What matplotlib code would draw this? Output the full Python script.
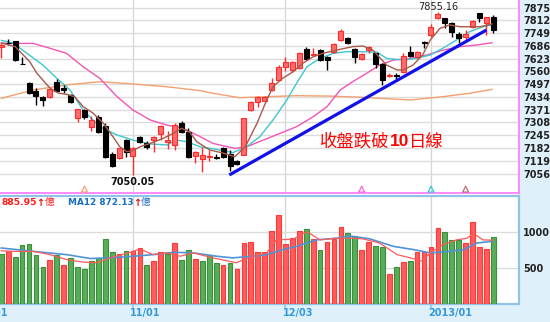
import numpy as np
import matplotlib
matplotlib.use("Agg")
import matplotlib.pyplot as plt
from matplotlib.patches import Rectangle

# ---------------- data ----------------
opens = [7680, 7701, 7710, 7596, 7502, 7463, 7435, 7435, 7509, 7478,
         7443, 7332, 7370, 7285, 7333, 7290, 7151, 7131, 7221, 7142,
         7236, 7205, 7221, 7251, 7214, 7197, 7307, 7262, 7142, 7126,
         7138, 7136, 7180, 7152, 7118, 7147, 7369, 7410, 7415, 7468,
         7517, 7583, 7567, 7575, 7669, 7641, 7665, 7630, 7654, 7715,
         7726, 7669, 7619, 7665, 7649, 7596, 7538, 7542, 7558, 7654,
         7629, 7706, 7739, 7822, 7822, 7800, 7743, 7728, 7780, 7846,
         7797, 7830]
highs = [7700, 7722, 7712, 7632, 7506, 7476, 7438, 7475, 7521, 7494,
         7447, 7375, 7374, 7340, 7347, 7305, 7164, 7184, 7225, 7185,
         7242, 7215, 7240, 7294, 7265, 7305, 7315, 7280, 7168, 7188,
         7170, 7150, 7185, 7170, 7122, 7332, 7412, 7440, 7438, 7527,
         7590, 7632, 7612, 7657, 7680, 7673, 7672, 7635, 7700, 7770,
         7730, 7675, 7650, 7684, 7652, 7600, 7550, 7552, 7652, 7687,
         7660, 7711, 7793, 7855.16, 7825, 7805, 7756, 7764, 7815, 7850,
         7828, 7838]
lows = [7628, 7688, 7612, 7594, 7448, 7394, 7389, 7430, 7462, 7455,
        7406, 7310, 7325, 7266, 7258, 7135, 7090, 7128, 7139, 7050.05,
        7209, 7178, 7164, 7221, 7175, 7172, 7255, 7135, 7106, 7065,
        7118, 7128, 7135, 7068, 7100, 7145, 7366, 7385, 7413, 7465,
        7512, 7563, 7555, 7570, 7615, 7638, 7612, 7565, 7650, 7710,
        7695, 7600, 7615, 7650, 7575, 7493, 7530, 7522, 7553, 7630,
        7625, 7674, 7731, 7818, 7772, 7731, 7698, 7714, 7775, 7805,
        7740, 7748]
closes = [7690, 7699, 7617, 7594, 7455, 7438, 7418, 7471, 7465, 7468,
          7410, 7373, 7336, 7318, 7261, 7137, 7093, 7182, 7164, 7180,
          7213, 7188, 7236, 7290, 7220, 7295, 7263, 7139, 7164, 7147,
          7142, 7132, 7140, 7091, 7105, 7328, 7410, 7432, 7435, 7504,
          7583, 7608, 7606, 7652, 7619, 7645, 7616, 7616, 7695, 7760,
          7698, 7632, 7645, 7680, 7596, 7517, 7542, 7535, 7636, 7636,
          7654, 7698, 7780, 7843, 7800, 7756, 7723, 7744, 7810, 7822,
          7827, 7764]

volumes = [696, 732, 655, 822, 836, 677, 509, 618, 682, 546,
           641, 519, 482, 591, 641, 904, 723, 696, 737, 741,
           777, 537, 596, 727, 696, 854, 609, 755, 628, 596,
           686, 564, 537, 573, 482, 854, 868, 727, 727, 1013,
           1241, 836, 914, 1018, 1041, 904, 745, 863, 904, 1072,
           982, 950, 755, 868, 809, 795, 423, 509, 582, 591,
           718, 718, 791, 1059, 1000, 891, 891, 854, 1132, 786,
           764, 927]
vol_up = "grgggggrgrgggggggrgrrgrrgrggrgggrgrrrrrrrrrrgrgrrrggrrggrgrgrrrrgggrrrrg"

# price moving averages (index, value)
ma5_x = [0, 2.0, 4.1, 5.1, 7.0, 8.2, 9.4, 10.6, 11.8, 13.2, 14.7, 16.1, 17.1, 18.1,
         19.0, 20.0, 21.5, 23.4, 24.8, 26.0, 27.2, 28.2, 30.1, 32.0, 33.7, 35.2,
         36.9, 38.3, 39.2, 40.6, 42.1, 43.5, 45.0, 46.4, 48.4, 50.7, 52.2, 53.6,
         55.6, 57.1, 58.0, 59.4, 60.8, 61.9, 63.3, 64.7, 66.2, 69.1, 70.8]
ma5_y = [7700, 7682, 7608, 7552, 7478, 7453, 7447, 7435, 7386, 7355, 7305, 7238, 7188, 7164,
         7169, 7188, 7205, 7230, 7254, 7279, 7260, 7213, 7172, 7157, 7139, 7188,
         7304, 7419, 7484, 7526, 7558, 7600, 7632, 7649, 7665, 7682, 7685, 7665,
         7591, 7567, 7567, 7591, 7641, 7715, 7772, 7789, 7780, 7780, 7794]
ma10_x = [0, 1.7, 3.7, 6.0, 8.0, 9.9, 11.8, 14.2, 16.7, 19.0, 21.5, 23.9, 25.3, 26.8,
          28.7, 31.6, 33.4, 35.4, 37.3, 39.2, 41.2, 42.6, 44.1, 46.0, 47.9, 49.8,
          51.8, 54.2, 55.6, 58.0, 59.9, 61.9, 63.7, 65.7, 67.6, 69.5, 70.8]
ma10_y = [7713, 7700, 7649, 7591, 7526, 7468, 7369, 7287, 7246, 7221, 7202, 7197, 7221, 7213,
          7188, 7172, 7159, 7188, 7238, 7320, 7419, 7501, 7583, 7624, 7649, 7657,
          7657, 7655, 7624, 7616, 7624, 7641, 7674, 7715, 7756, 7780, 7789]
ma20_x = [0, 1.3, 2.7, 4.6, 7.0, 9.4, 11.8, 14.2, 16.7, 19.0, 21.5, 23.9, 26.2, 28.7,
          30.5, 33.7, 35.4, 37.8, 40.2, 42.6, 45.0, 47.0, 48.9, 50.7, 52.7, 54.6,
          56.6, 59.0, 61.4, 63.8, 66.2, 68.6, 70.8]
ma20_y = [7700, 7698, 7698, 7698, 7674, 7649, 7583, 7526, 7435, 7369, 7320, 7295, 7279, 7238,
          7205, 7180, 7188, 7221, 7254, 7287, 7336, 7386, 7468, 7509, 7550, 7591,
          7616, 7624, 7641, 7665, 7682, 7690, 7701]
ma60_x = [0, 4.6, 9.4, 14.2, 19.0, 23.9, 28.7, 30.5, 34.4, 38.3, 42.6, 47.4, 52.2, 54.6,
          59.0, 63.7, 67.6, 70.8]
ma60_y = [7427, 7468, 7493, 7509, 7498, 7484, 7465, 7452, 7430, 7435, 7440, 7438, 7432, 7427,
          7419, 7435, 7452, 7471]

# volume moving averages (index, value)
vma5_x = [0, 1.3, 4.6, 7.0, 9.4, 11.8, 13.8, 15.7, 18.6, 20.0, 21.9, 23.9, 25.8, 27.7,
          30.5, 33.9, 36.3, 38.3, 39.7, 42.1, 44.1, 46.0, 48.4, 50.7, 52.2, 54.6,
          57.1, 59.0, 60.7, 61.9, 63.7, 65.7, 67.2, 68.1, 69.5, 70.9]
vma5_y = [740, 731, 731, 686, 618, 582, 573, 641, 718, 764, 686, 710, 663, 710,
          641, 573, 663, 710, 891, 900, 1004, 891, 914, 914, 904, 846,
          686, 641, 595, 710, 823, 891, 914, 982, 891, 886]
vma12_x = [0, 4.6, 9.4, 12.8, 15.7, 19.0, 21.9, 24.8, 27.7, 31.1, 33.4, 36.3, 38.3,
           40.6, 42.6, 45.5, 48.4, 50.3, 53.2, 56.6, 59.5, 61.9, 64.7, 66.7, 68.6, 70.9]
vma12_y = [778, 731, 686, 632, 641, 663, 686, 718, 710, 663, 641, 663, 686,
           755, 800, 891, 914, 945, 904, 800, 755, 710, 731, 755, 846, 872]

# MA cross markers
cross_idx = [12, 52, 62, 67]
cross_colors = ["#ff9a70", "#ff66cc", "#33c8d8", "#c07070"]

# trend line
trend_x = [32.9, 70.0]
trend_y = [7049, 7764]

price_ticks = [7056 + 63 * k for k in range(14)]
vol_ticks = [500, 1000]
date_idx = [-3, 19, 41, 62]
date_labels = ["10/01", "11/01", "12/03", "2013/01"]

low_label = "7050.05"
high_label = "7855.16"
note_parts = ["收盤跌破", "10", "日線"]
vol_ma5_text = "885.95"
vol_ma12_text = "MA12 872.13"

# ---------------- figure ----------------
W, H = 550, 322
fig = plt.figure(figsize=(W / 100, H / 100), dpi=100)
fig.patch.set_facecolor("#dff0fb")
fig.add_artist(Rectangle((0, 1 - 304 / H), 519 / W, 304 / H, transform=fig.transFigure,
                         facecolor="white", edgecolor="none", zorder=0))

ax = fig.add_axes([0, 1 - 193 / H, 519 / W, 193 / H])
axv = fig.add_axes([0, 1 - 304 / H, 519 / W, 108 / H])

n = len(opens)
xs = np.arange(n)
XL = (-0.19, 74.7)

# ---- price panel ----
ax.set_yticks(price_ticks)
ax.set_yticklabels([str(t) for t in price_ticks])
ax.yaxis.tick_right()
ax.tick_params(axis="y", length=0, pad=3, labelsize=7, labelcolor="#222222")
for lab in ax.get_yticklabels():
    lab.set_fontweight("bold")
ax.set_xticks(date_idx)
ax.tick_params(axis="x", length=0, labelbottom=False)
ax.set_xlim(*XL)
ax.set_ylim(6960, 7912)
ax.grid(True, axis="y", color="#dcdcdc", lw=1.0)
ax.grid(True, axis="x", color="#d4d4d4", lw=0.9)
ax.set_axisbelow(True)
for s in ["top", "left"]:
    ax.spines[s].set_visible(False)
for s in ["right", "bottom"]:
    ax.spines[s].set_color("#ff80ff")
    ax.spines[s].set_linewidth(1.3)

# moving averages
ax.plot(ma60_x, ma60_y, color="#f4a070", lw=1.0, zorder=2)
ax.plot(ma20_x, ma20_y, color="#f055b8", lw=1.0, zorder=2)
ax.plot(ma10_x, ma10_y, color="#3cc8d0", lw=1.0, zorder=2)

# candles
bw = 0.72
for i in range(n):
    o, h, l, c = opens[i], highs[i], lows[i], closes[i]
    up = c >= o
    fc = "#ff6b6b" if up else "#000000"
    ec = "#ff2a2a" if up else "#000000"
    ax.vlines(xs[i], l, h, color=ec, lw=1.0, zorder=3)
    bottom = min(o, c)
    height = max(abs(c - o), 1.5)
    ax.bar(xs[i], height, bottom=bottom, width=bw, color=fc, edgecolor=ec,
           linewidth=0.8, zorder=4)

ax.plot(ma5_x, ma5_y, color="#a65a4a", lw=1.0, zorder=5)

# trend line
ax.plot(trend_x, trend_y, color="#1010e8", lw=2.3, zorder=6, solid_capstyle="butt")

# cross markers
ax.scatter(cross_idx, [0.02] * len(cross_idx), marker="^", s=18, facecolors="none",
           edgecolors=cross_colors, linewidths=0.9,
           transform=ax.get_xaxis_transform(), zorder=6, clip_on=False)
ax.set_xlim(*XL)
ax.set_ylim(6960, 7912)

# labels
ax.annotate(low_label, xy=(19, min(lows)), xytext=(0, -2), textcoords="offset pixels",
            ha="center", va="top", fontsize=7, fontweight="bold", color="#111111")
ax.annotate(high_label, xy=(63, max(highs)), xytext=(0, 0), textcoords="offset pixels",
            ha="center", va="bottom", fontsize=7, color="#222222")

fig.text(320 / W, 1 - 141.5 / H, note_parts[0], fontsize=12.5, color="#ff0000",
         family=["Noto Sans CJK TC"], ha="left", va="center")
fig.text(390 / W, 1 - 141.5 / H, note_parts[1], fontsize=12.5, color="#ff0000",
         family=["Liberation Sans"], fontweight="bold", ha="left", va="center")
fig.text(409 / W, 1 - 141.5 / H, note_parts[2], fontsize=12.5, color="#ff0000",
         family=["Noto Sans CJK TC"], ha="left", va="center")

# ---- volume panel ----
vcols_f = ["#ff5c5c" if u == "r" else "#58ad58" for u in vol_up]
vcols_e = ["#ff3838" if u == "r" else "#3a8f3a" for u in vol_up]
axv.bar(xs, volumes, width=0.68, color=vcols_f, edgecolor=vcols_e, linewidth=0.8, zorder=3)
axv.plot(vma12_x, vma12_y, color="#4d94d6", lw=1.2, zorder=4)
axv.plot(vma5_x, vma5_y, color="#ff5a5a", lw=0.9, zorder=5)
axv.set_yticks(vol_ticks)
axv.set_yticklabels([str(t) for t in vol_ticks])
axv.yaxis.tick_right()
axv.tick_params(axis="y", length=0, pad=3, labelsize=7, labelcolor="#222222")
for lab in axv.get_yticklabels():
    lab.set_fontweight("bold")
axv.set_xticks(date_idx)
axv.tick_params(axis="x", length=3, width=1.2, color="#8fc3e8", labelbottom=False)
axv.set_xlim(*XL)
axv.set_ylim(0, 1500)
axv.grid(True, axis="y", color="#dcdcdc", lw=1.0)
axv.grid(True, axis="x", color="#d4d4d4", lw=0.9)
axv.set_axisbelow(True)
axv.spines["left"].set_visible(False)
for s in ["top", "right", "bottom"]:
    axv.spines[s].set_color("#8fc3e8")
    axv.spines[s].set_linewidth(1.6)

# volume legend
ly = 1 - 202.7 / H
fig.text(1 / W, ly, vol_ma5_text, fontsize=6.6, fontweight="bold", color="#ff1a1a", ha="left", va="center")
fig.text(36.5 / W, ly, "↑", fontsize=7, fontweight="bold", color="#e01010", ha="left", va="center")
fig.text(44.5 / W, ly, "億", fontsize=7, color="#ff1a1a", family=["Noto Sans CJK TC"], ha="left", va="center")
fig.text(67.7 / W, ly, vol_ma12_text, fontsize=6.4, fontweight="bold", color="#1a6fc0", ha="left", va="center")
fig.text(133.5 / W, ly, "↑", fontsize=7, fontweight="bold", color="#e01010", ha="left", va="center")
fig.text(140.5 / W, ly, "億", fontsize=7, color="#1a6fc0", family=["Noto Sans CJK TC"], ha="left", va="center")

# date labels
fig.canvas.draw()
for d, lab in zip(date_idx, date_labels):
    px = axv.transData.transform((d, 0))[0]
    fig.text((px - 3) / W, 1 - 313 / H, lab, fontsize=7, fontweight="bold",
             color="#3399dd", ha="left", va="center")

fig.savefig("out.png", dpi=100, facecolor=fig.get_facecolor())
